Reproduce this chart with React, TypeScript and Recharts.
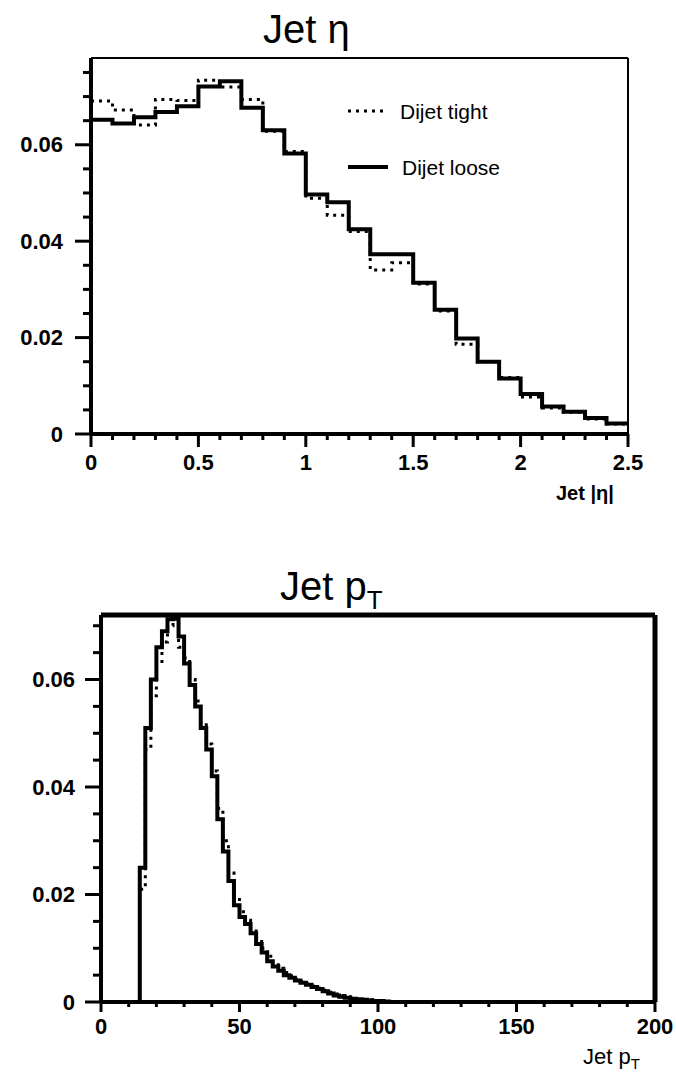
import { LineChart, Line, XAxis, YAxis, ReferenceLine } from 'recharts';

// Jet |eta| histogram, 0.1 wide bins (left edges + closing edge)
const etaEdges = [0, 0.1, 0.2, 0.3, 0.4, 0.5, 0.6, 0.7, 0.8, 0.9, 1.0, 1.1, 1.2, 1.3, 1.4, 1.5, 1.6, 1.7, 1.8, 1.9, 2.0, 2.1, 2.2, 2.3, 2.4, 2.5];
const etaTight = [0.0691, 0.0672, 0.0641, 0.0694, 0.0692, 0.0734, 0.072, 0.0694, 0.0628, 0.0586, 0.0489, 0.0454, 0.042, 0.034, 0.0355, 0.0311, 0.0255, 0.0186, 0.015, 0.0117, 0.0077, 0.0054, 0.0045, 0.0031, 0.0021];
const etaLoose = [0.0652, 0.0644, 0.0657, 0.0668, 0.068, 0.0721, 0.0732, 0.0677, 0.063, 0.0582, 0.0497, 0.0481, 0.0425, 0.0373, 0.0373, 0.0314, 0.0258, 0.0198, 0.015, 0.0115, 0.0083, 0.0057, 0.0046, 0.0033, 0.0022];

// Jet pT histogram, 2 GeV bins (left edges), empty below 14 and above 104
const ptEdges = [0, 14, 16, 18, 20, 22, 24, 26, 28, 30, 32, 34, 36, 38, 40, 42, 44, 46, 48, 50, 52, 54, 56, 58, 60, 62, 64, 66, 68, 70, 72, 74, 76, 78, 80, 82, 84, 86, 88, 90, 92, 94, 96, 98, 100, 102, 104, 200];
const ptTight = [0, 0.021, 0.047, 0.057, 0.063, 0.067, 0.07, 0.0712, 0.066, 0.064, 0.06, 0.056, 0.052, 0.048, 0.043, 0.036, 0.03, 0.024, 0.0195, 0.0168, 0.0152, 0.0136, 0.0118, 0.01, 0.0085, 0.0073, 0.0063, 0.0055, 0.0049, 0.0043, 0.0038, 0.0034, 0.003, 0.0026, 0.0022, 0.0018, 0.0015, 0.0012, 0.001, 0.0008, 0.0006, 0.0005, 0.0004, 0.0003, 0.0002, 0.0001, 0, 0];
const ptLoose = [0, 0.025, 0.051, 0.06, 0.066, 0.069, 0.0712, 0.0718, 0.068, 0.063, 0.059, 0.055, 0.051, 0.047, 0.042, 0.034, 0.028, 0.0225, 0.018, 0.0158, 0.0145, 0.0128, 0.0108, 0.0092, 0.0076, 0.0066, 0.0058, 0.005, 0.0045, 0.004, 0.0036, 0.0032, 0.0028, 0.0024, 0.002, 0.0016, 0.0012, 0.001, 0.0008, 0.0006, 0.0005, 0.0004, 0.0003, 0.0002, 0.0002, 0.0001, 0, 0];

const etaXTicks = [0, 0.1, 0.2, 0.3, 0.4, 0.5, 0.6, 0.7, 0.8, 0.9, 1, 1.1, 1.2, 1.3, 1.4, 1.5, 1.6, 1.7, 1.8, 1.9, 2, 2.1, 2.2, 2.3, 2.4, 2.5];
const etaXLabels = [0, 0.5, 1, 1.5, 2, 2.5];
const etaYTicks = [0, 0.005, 0.01, 0.015, 0.02, 0.025, 0.03, 0.035, 0.04, 0.045, 0.05, 0.055, 0.06, 0.065, 0.07, 0.075];
const etaYLabels = [0, 0.02, 0.04, 0.06];

const ptXTicks = [0, 10, 20, 30, 40, 50, 60, 70, 80, 90, 100, 110, 120, 130, 140, 150, 160, 170, 180, 190, 200];
const ptXLabels = [0, 50, 100, 150, 200];
const ptYTicks = [0, 0.005, 0.01, 0.015, 0.02, 0.025, 0.03, 0.035, 0.04, 0.045, 0.05, 0.055, 0.06, 0.065, 0.07];
const ptYLabels = [0, 0.02, 0.04, 0.06];

const FONT = "'Liberation Sans', Arial, Helvetica, sans-serif";

// last bin value is repeated on the closing edge so the step reaches it
const etaRows = etaEdges.map((x, i) => ({
  x,
  tight: etaTight[Math.min(i, etaTight.length - 1)],
  loose: etaLoose[Math.min(i, etaLoose.length - 1)],
}));
const ptRows = ptEdges.map((x, i) => ({ x, tight: ptTight[i], loose: ptLoose[i] }));

const makeYTick = (labels: number[], gap: number) => (props: any) => {
  const { x, y, payload } = props;
  const major = labels.includes(payload.value);
  return (
    <g>
      <line x1={x - (major ? 16 : 8)} x2={x} y1={y} y2={y} stroke='#000' strokeWidth={3} />
      {major && (
        <text x={x - gap} y={y} textAnchor='end' dominantBaseline='central' fontFamily={FONT} fontWeight={700} fontSize={22} fill='#000'>
          {String(payload.value)}
        </text>
      )}
    </g>
  );
};

const makeXTick = (labels: number[], minorLen: number, majorLen: number, labelDy: number) => (props: any) => {
  const { x, y, payload } = props;
  const major = labels.includes(payload.value);
  return (
    <g>
      <line x1={x} x2={x} y1={y} y2={y + (major ? majorLen : minorLen)} stroke='#000' strokeWidth={3} />
      {major && (
        <text x={x} y={y + labelDy} textAnchor='middle' fontFamily={FONT} fontWeight={700} fontSize={22} fill='#000'>
          {String(payload.value)}
        </text>
      )}
    </g>
  );
};

const Hist = ({ rows, xDomain, yDomain, xTicks, yTicks, xTick, yTick, margin, yWidth, frame }: any) => (
  <LineChart width={676} height={540} data={rows} margin={margin}>
    <XAxis
      dataKey='x'
      type='number'
      domain={xDomain}
      ticks={xTicks}
      interval={0}
      allowDataOverflow
      height={30}
      tickSize={0}
      tickMargin={0}
      tickLine={false}
      tick={xTick}
      axisLine={{ stroke: '#000', strokeWidth: 4 }}
    />
    <YAxis
      type='number'
      domain={yDomain}
      ticks={yTicks}
      interval={0}
      allowDataOverflow
      width={yWidth}
      tickSize={0}
      tickMargin={0}
      tickLine={false}
      tick={yTick}
      axisLine={{ stroke: '#000', strokeWidth: 4 }}
    />
    {/* frame: top and right edges of the plot box */}
    <ReferenceLine y={yDomain[1]} stroke='#000' strokeWidth={frame} ifOverflow='visible' />
    <ReferenceLine x={xDomain[1]} stroke='#000' strokeWidth={frame} ifOverflow='visible' />
    <Line dataKey='tight' type='stepAfter' stroke='#000' strokeWidth={3} strokeDasharray='3 5' dot={false} isAnimationActive={false} />
    <Line dataKey='loose' type='stepAfter' stroke='#000' strokeWidth={4} dot={false} isAnimationActive={false} />
  </LineChart>
);

export default function App() {
  return (
    <div style={{ position: 'absolute', left: 0, top: 0, width: 676, height: 1076, background: '#fff', overflow: 'hidden' }}>
      <div style={{ position: 'absolute', left: 0, top: 0 }}>
        <Hist
          rows={etaRows}
          xDomain={[0, 2.5]}
          yDomain={[0, 0.078]}
          xTicks={etaXTicks}
          yTicks={etaYTicks}
          xTick={makeXTick(etaXLabels, 6, 13, 36)}
          yTick={makeYTick(etaYLabels, 28)}
          margin={{ top: 58, right: 48, left: 0, bottom: 76 }}
          yWidth={91}
          frame={2}
        />
      </div>
      <div style={{ position: 'absolute', left: 0, top: 536 }}>
        <Hist
          rows={ptRows}
          xDomain={[0, 200]}
          yDomain={[0, 0.072]}
          xTicks={ptXTicks}
          yTicks={ptYTicks}
          xTick={makeXTick(ptXLabels, 5, 10, 32)}
          yTick={makeYTick(ptYLabels, 26)}
          margin={{ top: 79, right: 21, left: 0, bottom: 44 }}
          yWidth={101}
          frame={5}
        />
      </div>
      <svg width={676} height={1076} style={{ position: 'absolute', left: 0, top: 0, pointerEvents: 'none' }}>
        <g fontFamily={FONT} fill='#000'>
          <text x={263} y={43} fontSize={40}>Jet η</text>
          <text x={556} y={500} fontSize={20} fontWeight={700}>Jet |η|</text>
          <line x1={348} x2={388} y1={111} y2={111} stroke='#000' strokeWidth={3} strokeDasharray='3 5' />
          <text x={400} y={111} fontSize={21} dominantBaseline='central'>Dijet tight</text>
          <line x1={348} x2={388} y1={167} y2={167} stroke='#000' strokeWidth={4} />
          <text x={402} y={167} fontSize={21} dominantBaseline='central'>Dijet loose</text>
          <text x={280} y={600} fontSize={40}>
            Jet p<tspan fontSize={26} dy={9}>T</tspan>
          </text>
          <text x={583} y={1064} fontSize={22}>
            Jet p<tspan fontSize={15} dy={5}>T</tspan>
          </text>
        </g>
      </svg>
    </div>
  );
}
